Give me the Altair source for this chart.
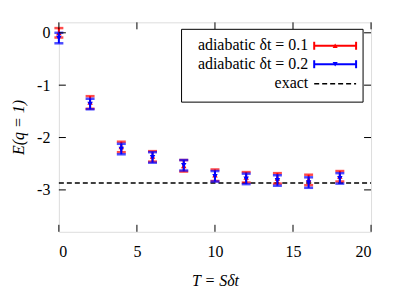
import altair as alt
import pandas as pd

T = [0, 2, 4, 6, 8, 10, 12, 14, 16, 18]
E_01 = [0.0, -1.33, -2.18, -2.36, -2.54, -2.72, -2.76, -2.78, -2.81, -2.74]
err_01 = [0.09, 0.12, 0.1, 0.1, 0.11, 0.11, 0.1, 0.1, 0.1, 0.1]
E_02 = [-0.1, -1.36, -2.22, -2.38, -2.53, -2.74, -2.79, -2.82, -2.86, -2.78]
err_02 = [0.1, 0.1, 0.1, 0.1, 0.1, 0.1, 0.1, 0.1, 0.1, 0.1]
E_exact = -2.87
x_ticks = [0, 5, 10, 15, 20]
y_ticks = [0, -1, -2, -3]
legend_labels = ["adiabatic δt = 0.1", "adiabatic δt = 0.2", "exact"]

W, H = 313, 210
FONT = "'Liberation Serif', 'Times New Roman', serif"
FS = 16

xs = alt.Scale(domain=[0, 20], nice=False)
ys = alt.Scale(domain=[-3.8, 0.2], nice=False)

def series(E, err, color, shape):
    df = pd.DataFrame({"T": T, "E": E, "lo": [e - d for e, d in zip(E, err)],
                       "hi": [e + d for e, d in zip(E, err)]})
    base = alt.Chart(df)
    bar = base.mark_rule(color=color, strokeWidth=2).encode(
        x=alt.X("T:Q", scale=xs), y=alt.Y("lo:Q", scale=ys), y2="hi:Q")
    caplo = base.mark_tick(color=color, orient="horizontal", size=9, thickness=2.5).encode(
        x=alt.X("T:Q", scale=xs), y=alt.Y("lo:Q", scale=ys))
    caphi = base.mark_tick(color=color, orient="horizontal", size=9, thickness=2.5).encode(
        x=alt.X("T:Q", scale=xs), y=alt.Y("hi:Q", scale=ys))
    pts = base.mark_point(color=color, filled=True, shape=shape, size=30, opacity=1).encode(
        x=alt.X("T:Q", scale=xs), y=alt.Y("E:Q", scale=ys))
    return [bar, caplo, caphi, pts]

axes = alt.Chart(pd.DataFrame({"T": [0], "E": [0]})).mark_point(opacity=0).encode(
    x=alt.X("T:Q", scale=xs, axis=alt.Axis(values=x_ticks, ticks=False, domain=False, grid=False,
            labelFont=FONT, labelFontSize=FS, labelColor="#000", labelPadding=12,
            title="T = Sδt", titleFont=FONT, titleFontSize=FS, titleFontStyle="italic",
            titleFontWeight="normal", titleColor="#000", titlePadding=13)),
    y=alt.Y("E:Q", scale=ys, axis=alt.Axis(values=y_ticks, ticks=False, domain=False, grid=False,
            labelFont=FONT, labelFontSize=FS, labelColor="#000", labelPadding=9,
            labelExpr="datum.value + ''",
            title="E(q = 1)", titleFont=FONT, titleFontSize=FS, titleFontStyle="italic",
            titleFontWeight="normal", titleColor="#000", titlePadding=10)),
)

xt = pd.DataFrame({"v": x_ticks})
yt = pd.DataFrame({"v": y_ticks})
tick_layers = [
    alt.Chart(xt).mark_rule(color="#000", strokeWidth=1).encode(
        x=alt.X("v:Q", scale=xs), y=alt.value(H), y2=alt.value(H - 7)),
    alt.Chart(xt).mark_rule(color="#000", strokeWidth=1).encode(
        x=alt.X("v:Q", scale=xs), y=alt.value(0), y2=alt.value(7)),
    alt.Chart(yt).mark_rule(color="#000", strokeWidth=1).encode(
        y=alt.Y("v:Q", scale=ys), x=alt.value(0), x2=alt.value(7)),
    alt.Chart(yt).mark_rule(color="#000", strokeWidth=1).encode(
        y=alt.Y("v:Q", scale=ys), x=alt.value(W), x2=alt.value(W - 7)),
]

exact = alt.Chart(pd.DataFrame({"E": [E_exact]})).mark_rule(
    color="#000", strokeWidth=1.5, strokeDash=[5, 3]).encode(
    y=alt.Y("E:Q", scale=ys), x=alt.value(0), x2=alt.value(W))

# legend (drawn by hand, gnuplot style)
leg_df = pd.DataFrame({"label": legend_labels})
box = alt.Chart(leg_df.head(1)).mark_rect(fill="white", stroke="#000", strokeWidth=1).encode(
    x=alt.value(123), x2=alt.value(305), y=alt.value(7), y2=alt.value(80))
leg_layers = [box]
rows_y = [23, 41.5, 61]
for i, lab in enumerate(legend_labels):
    d = pd.DataFrame({"label": [lab]})
    leg_layers.append(alt.Chart(d).mark_text(font=FONT, fontSize=FS, align="right",
                                             baseline="middle", color="#000").encode(
        text="label:N", x=alt.value(250), y=alt.value(rows_y[i])))
for i, (color, shape) in enumerate([("#ff0000", "triangle-up"), ("#0000ff", "triangle-down")]):
    d = pd.DataFrame({"label": [legend_labels[i]]})
    yy = rows_y[i] + 0.5
    leg_layers += [
        alt.Chart(d).mark_rule(color=color, strokeWidth=2).encode(
            x=alt.value(256), x2=alt.value(298), y=alt.value(yy)),
        alt.Chart(d).mark_rule(color=color, strokeWidth=2).encode(
            x=alt.value(256), y=alt.value(yy - 4), y2=alt.value(yy + 4)),
        alt.Chart(d).mark_rule(color=color, strokeWidth=2).encode(
            x=alt.value(298), y=alt.value(yy - 4), y2=alt.value(yy + 4)),
        alt.Chart(d).mark_point(color=color, filled=True, shape=shape, size=26, opacity=1).encode(
            x=alt.value(277), y=alt.value(yy)),
    ]
leg_layers.append(alt.Chart(pd.DataFrame({"label": ["exact"]})).mark_rule(
    color="#000", strokeWidth=1.5, strokeDash=[5, 3]).encode(
    x=alt.value(256), x2=alt.value(298), y=alt.value(rows_y[2] + 0.5)))

layers = [axes, exact] + series(E_01, err_01, "#ff0000", "triangle-up") + \
    series(E_02, err_02, "#0000ff", "triangle-down") + tick_layers + leg_layers

chart = alt.layer(*layers).properties(
    width=W, height=H,
    autosize=alt.AutoSizeParams(type="none"),
    padding={"left": 51, "top": 14, "right": 20, "bottom": 60},
).configure_view(stroke="#000", strokeWidth=1.2).configure(background="white")

chart.save("out.html", embed_options={"renderer": "svg", "actions": False})
